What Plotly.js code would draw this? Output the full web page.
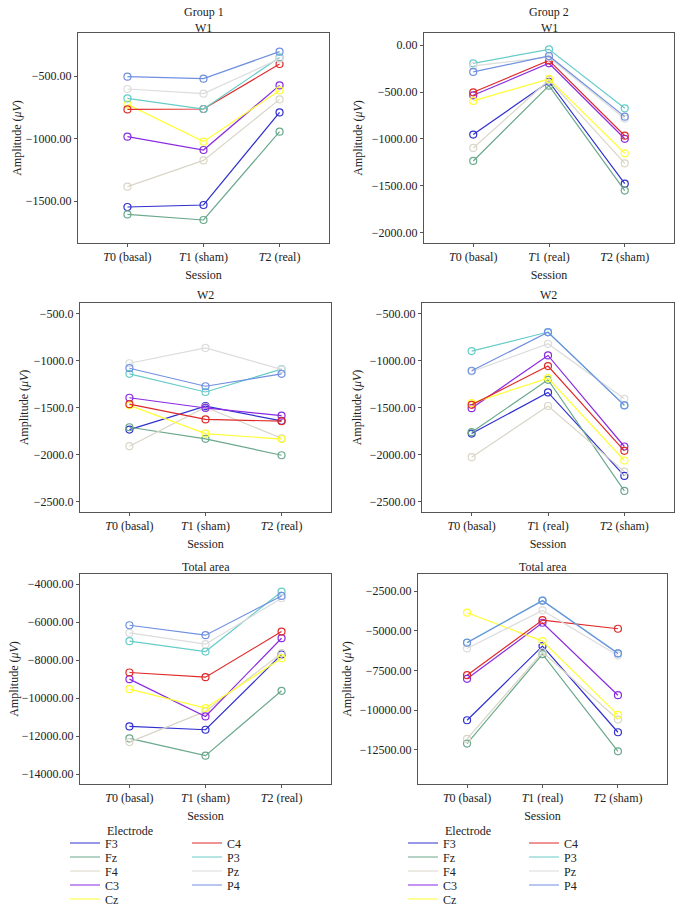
<!DOCTYPE html>
<html><head><meta charset="utf-8">
<script src="https://cdn.plot.ly/plotly-3.0.1.min.js"></script>
<style>html,body{margin:0;padding:0;background:#fff}#chart{width:682px;height:909px}</style>
</head><body><div id="chart"></div>
<script>
// ---------- data ----------
const electrodes = ["F3", "Fz", "F4", "C3", "Cz", "C4", "P3", "Pz", "P4"];
const colors = ["#3030d0", "#6aa88c", "#d9d6c8", "#8a2be2", "#ffff33", "#e02a2a", "#66ccc8", "#dcdcdc", "#7090e0"];
const sessionsG1 = ["<i>T</i>0 (basal)", "<i>T</i>1 (sham)", "<i>T</i>2 (real)"];
const sessionsG2 = ["<i>T</i>0 (basal)", "<i>T</i>1 (real)", "<i>T</i>2 (sham)"];

// rows follow the electrodes order; columns are T0, T1, T2
const g1W1 = [[-1548, -1532, -791], [-1607, -1652, -945], [-1385, -1175, -687], [-985, -1092, -575], [-727, -1025, -615], [-767, -764, -404], [-679, -764, -351], [-604, -641, -362], [-505, -521, -305]];
const g2W1 = [[-955, -390, -1480], [-1237, -432, -1554], [-1098, -371, -1262], [-535, -193, -1000], [-595, -360, -1155], [-503, -162, -967], [-193, -44, -674], [-221, -128, -785], [-285, -115, -763]];
const g1W2 = [[-1733, -1484, -1640], [-1708, -1831, -2006], [-1910, -1495, -1825], [-1394, -1503, -1585], [-1475, -1776, -1834], [-1463, -1625, -1643], [-1140, -1333, -1090], [-1027, -864, -1092], [-1080, -1272, -1140]];
const g2W2 = [[-1775, -1338, -2226], [-1761, -1203, -2386], [-2027, -1482, -2180], [-1505, -944, -1913], [-1452, -1185, -2062], [-1470, -1057, -1959], [-898, -695, -1473], [-1115, -820, -1406], [-1107, -698, -1476]];
const g1Total = [[-11491, -11667, -7700], [-12123, -13035, -9614], [-12316, -10700, -7632], [-9000, -10965, -6842], [-9526, -10526, -7895], [-8649, -8895, -6491], [-7000, -7544, -4389], [-6561, -7158, -4737], [-6158, -6684, -4616]];
const g2Total = [[-10630, -5966, -11387], [-12101, -6471, -12584], [-11807, -6345, -10588], [-8025, -4496, -9055], [-3866, -5651, -10294], [-7794, -4328, -4874], [-5740, -3100, -6420], [-6113, -3718, -6555], [-5756, -3109, -6429]];

const titlesPanel = ["W1", "W1", "W2", "W2", "Total area", "Total area"];
const groupTitles = ["Group 1", "Group 2"];
const legendTitle = "Electrode";

// ---------- layout helpers ----------
const W = 682, H = 909;
const panels = [
  {data: g1W1, sess: sessionsG1, px: [78, 329], py: [33, 243], range: [-1836, -156], dtick: 500, fmt: ".2f", tshift: 4.5, yst: 1, group: 0},
  {data: g2W1, sess: sessionsG2, px: [424, 674], py: [33, 243], range: [-2114, 131], dtick: 500, fmt: ".2f", tshift: 4.5, yst: 6, group: 1},
  {data: g1W2, sess: sessionsG1, px: [80, 331], py: [303, 512], range: [-2610, -386], dtick: 500, fmt: ".1f", tshift: 7.5, yst: 2},
  {data: g2W2, sess: sessionsG2, px: [422, 674], py: [303, 512], range: [-2610, -386], dtick: 500, fmt: ".2f", tshift: 7.5, yst: 5},
  {data: g1Total, sess: sessionsG1, px: [80, 331], py: [574, 784], range: [-14526, -3458], dtick: 2000, fmt: ".2f", tshift: 7.5, yst: 0},
  {data: g2Total, sess: sessionsG2, px: [418, 667], py: [574, 784], range: [-14641, -1430], dtick: 2500, fmt: ".2f", tshift: 7.5, yst: 5}
];

const FONT = "Liberation Serif, Times New Roman, serif";
const TXT = "#222";
const AX = "#555";

const traces = [];
const layout = {
  width: W, height: H,
  margin: {l: 0, r: 0, t: 0, b: 0, autoexpand: false},
  paper_bgcolor: "#fff", plot_bgcolor: "#fff",
  font: {family: FONT, size: 12, color: TXT},
  showlegend: true,
  annotations: []
};

panels.forEach((p, i) => {
  const n = i === 0 ? "" : String(i + 1);
  const xa = "x" + n, ya = "y" + n;
  layout["xaxis" + n] = {
    domain: [p.px[0] / W, p.px[1] / W], anchor: ya,
    type: "category", categoryorder: "array", categoryarray: p.sess,
    range: [-0.65, 2.65],
    showline: true, mirror: true, linecolor: AX, linewidth: 1,
    ticks: "outside", ticklen: 3, tickcolor: AX,
    showgrid: false, zeroline: false,
    tickfont: {size: 12, color: TXT},
    title: {text: "Session", font: {size: 12, color: TXT}, standoff: 7},
    fixedrange: true
  };
  layout["yaxis" + n] = {
    domain: [1 - p.py[1] / H, 1 - p.py[0] / H], anchor: xa,
    range: p.range, dtick: p.dtick, tick0: 0, tickformat: p.fmt,
    showline: true, mirror: true, linecolor: AX, linewidth: 1,
    ticks: "outside", ticklen: 3, tickcolor: AX,
    showgrid: false, zeroline: false,
    tickfont: {size: 12, color: TXT},
    title: {text: "Amplitude (<i>μV</i>)", font: {size: 12, color: TXT}, standoff: p.yst},
    fixedrange: true
  };
  layout.annotations.push({
    text: titlesPanel[i], xref: xa + " domain", yref: ya + " domain",
    x: 0.5, y: 1, xanchor: "center", yanchor: "middle", yshift: p.tshift,
    showarrow: false, font: {size: 12, color: TXT}
  });
  if (p.group !== undefined) {
    layout.annotations.push({
      text: groupTitles[p.group], xref: xa + " domain", yref: ya + " domain",
      x: 0.5, y: 1, xanchor: "center", yanchor: "middle", yshift: 20.5,
      showarrow: false, font: {size: 12, color: TXT}
    });
  }
  electrodes.forEach((e, k) => {
    traces.push({
      type: "scatter", mode: "lines+markers", name: e,
      x: p.sess, y: p.data[k], xaxis: xa, yaxis: ya,
      line: {color: colors[k], width: 1.2},
      marker: {symbol: "circle-open", size: 7, color: colors[k], line: {width: 1.2, color: colors[k]}},
      showlegend: false, hoverinfo: "x+y+name"
    });
  });
});

// legend keys (lines only): one small legend per entry so rows sit close together
const legendTextX = [[105, 227], [443, 564]];   // text start px for [group][column]
const legendRowY = [843, 857, 871, 885, 899];    // row centre px
[0, 1].forEach(g => {
  electrodes.forEach((e, k) => {
    const idx = g * 9 + k;
    const id = idx === 0 ? "legend" : "legend" + (idx + 1);
    const col = k < 5 ? 0 : 1;
    const row = k < 5 ? k : k - 5;
    traces.push({
      type: "scatter", mode: "lines", name: e,
      x: [null], y: [null], xaxis: g === 0 ? "x" : "x2", yaxis: g === 0 ? "y" : "y2",
      line: {color: colors[k], width: 1.2},
      legend: id, showlegend: true, hoverinfo: "skip"
    });
    layout[id] = {
      x: (legendTextX[g][col] - 40) / W, xanchor: "left",
      y: 1 - (legendRowY[row] - 14.5) / H, yanchor: "top",
      bgcolor: "rgba(0,0,0,0)", borderwidth: 0,
      font: {size: 12, color: TXT}, tracegroupgap: 0
    };
  });
});

[105, 443].forEach(xp => {
  layout.annotations.push({
    text: legendTitle, xref: "paper", yref: "paper", x: xp / W, y: 1 - 831 / H,
    xanchor: "left", yanchor: "middle", showarrow: false, font: {size: 12, color: TXT}
  });
});

Plotly.newPlot("chart", traces, layout, {staticPlot: true, displayModeBar: false});
</script>
</body></html>
